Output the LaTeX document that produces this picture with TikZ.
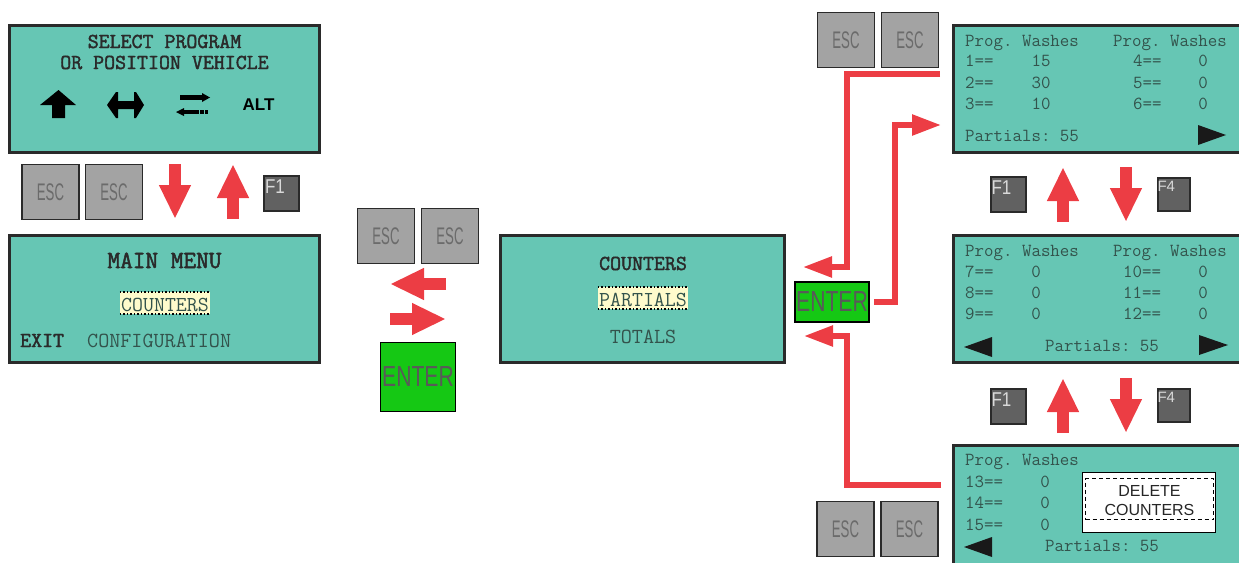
\documentclass[tikz,border=0pt]{standalone}
\usepackage{fontspec}
\usetikzlibrary{arrows.meta}
\setmainfont{Liberation Sans}
\newfontfamily\esckey[FakeStretch=0.55]{Liberation Sans}
\newfontfamily\enterkey[FakeStretch=0.73]{Liberation Sans}
\newfontfamily\fnkey[FakeStretch=0.85]{Liberation Sans}
\newfontfamily\boldmono[FakeBold=2]{Latin Modern Mono}
\definecolor{lcdbg}{HTML}{66C6B4}
\definecolor{lcdline}{HTML}{2A2A2A}
\definecolor{lcdtext}{HTML}{33534C}
\definecolor{hilite}{HTML}{FFFBCC}
\definecolor{redarrow}{HTML}{EC3D44}
\definecolor{escgray}{HTML}{A3A3A3}
\definecolor{fngray}{HTML}{616161}
\definecolor{entergreen}{HTML}{15C814}

\begin{document}
\frenchspacing
\begin{tikzpicture}[x=1pt,y=-1pt,
 lcd/.style={draw=lcdline,fill=lcdbg,line width=3pt,inner sep=0pt,minimum height=126.5pt},
 txt/.style={anchor=base west,inner sep=0pt,text=lcdtext,font=\ttfamily\fontsize{18.4}{20}\selectfont},
 num/.style={txt,anchor=base},
 big/.style={anchor=base,inner sep=0pt,text=lcdline,font=\boldmono\fontsize{21.3}{24}\selectfont},
 wide/.style={txt,font=\ttfamily\fontsize{21.5}{24}\selectfont},
 sel/.style={fill=hilite,anchor=center,inner sep=0pt,minimum width=90pt,minimum height=22pt,text height=17pt,text depth=0pt,text=lcdtext,font=\ttfamily\fontsize{21.3}{24}\selectfont},
 dots/.style={line width=1.5pt,dotted,line cap=butt},
 esc/.style={draw=lcdline,fill=escgray,line width=1.5pt,inner sep=0pt,minimum width=57pt,minimum height=55pt,text=black!58,font=\esckey\fontsize{24}{24}\selectfont},
 fn/.style={draw=lcdline,fill=fngray,line width=2pt,inner sep=0pt,minimum size=35pt,text=black!15,font=\fnkey\fontsize{20}{20}\selectfont,text depth=13pt,text width=33pt,align=left},
 fnb/.style={fn,minimum width=32pt,minimum height=33pt,text width=32pt,font=\fontsize{15}{15}\selectfont,text depth=16pt},
 enter/.style={draw=black,fill=entergreen,line width=1.6pt,inner sep=0pt,text=black!65,font=\enterkey\fontsize{29}{29}\selectfont},
 blockarr/.style={draw=redarrow,line width=12pt,-{Triangle[length=34pt,width=29.5pt]}},
 elbow/.style={draw=redarrow,line width=5.5pt,-{Triangle[length=29pt,width=20pt]}}]
\clip (0,0) rectangle (1239,562);
% screens
\node[lcd,minimum width=309.5pt] (select) at (164.5,89) {};
\node[lcd,minimum width=309.5pt] (mainmenu) at (164.5,299) {};
\node[lcd,minimum width=283.5pt] (counters) at (642.5,299) {};
\node[lcd,minimum width=340pt] (page1) at (1123,89) {};
\node[lcd,minimum width=340pt] (page2) at (1123,299) {};
\node[lcd,minimum width=340pt] (page3) at (1123,509) {};
% select program
\node[big] (title1) at (164.5,48) {SELECT PROGRAM};
\node[big] (title2) at (164.5,69) {OR POSITION VEHICLE};
\fill[black] (40,105) -- (58.5,90) -- (76,105) -- (65,105) -- (65,118) -- (52,118) -- (52,105) -- cycle;
\fill[black] (107,105) -- (116,92) -- (118,92) -- (118,101) -- (134,101) -- (134,92) -- (136,92) -- (144,105) -- (136,118) -- (134,118) -- (134,109) -- (118,109) -- (118,118) -- (116,118) -- cycle;
\fill[black] (180,95) rectangle (202,100);
\fill[black] (202,93) -- (210,97.5) -- (202,102) -- cycle;
\fill[black] (184,110) rectangle (199,114);
\fill[black] (200,110) rectangle (204,114);
\fill[black] (205,110) rectangle (208,114);
\fill[black] (184,108) -- (176,112) -- (184,116) -- cycle;
\node[anchor=base,inner sep=0pt,font=\bfseries\fontsize{17}{17}\selectfont,text=black] (alt) at (258.5,110) {ALT};
% main menu
\node[big,font=\boldmono\fontsize{24.6}{26}\selectfont] (mainttl) at (164.5,268) {MAIN MENU};
\node[sel] (mainsel) at (165,303) {COUNTERS};
\draw[dots] (mainsel.north west) -- (mainsel.north east);
\draw[dots] (mainsel.south west) -- (mainsel.south east);
\node[big,anchor=base west] (exit) at (20,347) {EXIT};
\node[wide] (config) at (87,347) {CONFIGURATION};
% counters
\node[big] (cntttl) at (643,270) {COUNTERS};
\node[sel] (cntsel) at (643,298) {PARTIALS};
\draw[dots] (cntsel.north west) -- (cntsel.north east);
\draw[dots] (cntsel.south west) -- (cntsel.south east);
\node[wide,anchor=base] (totals) at (643,343) {TOTALS};
% page 1
\node[txt] (ah1) at (965,46) {Prog. Washes};
\node[txt] (bh1) at (1113,46) {Prog. Washes};
\node[txt] (r1) at (965,66) {1==};
\node[txt] (r2) at (965,88) {2==};
\node[txt] (r3) at (965,109) {3==};
\node[num] (v1) at (1041,66) {15};
\node[num] (v2) at (1041,88) {30};
\node[num] (v3) at (1041,109) {10};
\node[txt] (r4) at (1133,66) {4==};
\node[txt] (r5) at (1133,88) {5==};
\node[txt] (r6) at (1133,109) {6==};
\node[num] (v4) at (1203,66) {0};
\node[num] (v5) at (1203,88) {0};
\node[num] (v6) at (1203,109) {0};
\node[txt] (sum1) at (965,141) {Partials: 55};
\fill[black!90] (1198,125) -- (1226,135) -- (1198,145) -- cycle;
% page 2
\node[txt] (ah2) at (965,256) {Prog. Washes};
\node[txt] (bh2) at (1113,256) {Prog. Washes};
\node[txt] (r7) at (965,277) {7==};
\node[txt] (r8) at (965,298) {8==};
\node[txt] (r9) at (965,319) {9==};
\node[num] (v7) at (1036,277) {0};
\node[num] (v8) at (1036,298) {0};
\node[num] (v9) at (1036,319) {0};
\node[txt] (r10) at (1123,277) {10==};
\node[txt] (r11) at (1123,298) {11==};
\node[txt] (r12) at (1123,319) {12==};
\node[num] (v10) at (1203,277) {0};
\node[num] (v11) at (1203,298) {0};
\node[num] (v12) at (1203,319) {0};
\node[txt] (sum2) at (1045,351) {Partials: 55};
\fill[black!90] (992,337) -- (964,347) -- (992,357) -- cycle;
\fill[black!90] (1199,335) -- (1228,345) -- (1199,355) -- cycle;
% page 3
\node[txt] (ah3) at (965,465) {Prog. Washes};
\node[txt] (r13) at (965,487) {13==};
\node[txt] (r14) at (965,508) {14==};
\node[txt] (r15) at (965,530) {15==};
\node[num] (v13) at (1045,487) {0};
\node[num] (v14) at (1045,508) {0};
\node[num] (v15) at (1045,530) {0};
\node[txt] (sum3) at (1045,551) {Partials: 55};
\fill[black!90] (992,537) -- (964,547) -- (992,557) -- cycle;
\node[draw=black,fill=white,line width=1.5pt,inner sep=0pt,minimum width=133pt,minimum height=60pt] (delbox) at (1149,502.5) {};
\node[draw=black,dash pattern=on 4pt off 3pt,line width=1.5pt,inner sep=0pt,minimum width=128pt,minimum height=41pt] (delframe) at (1149.5,499) {};
\node[align=center,inner sep=0pt,font=\fontsize{16}{19}\selectfont,text=black!85] (del) at (1149.5,501) {DELETE\\COUNTERS};
% keys
\node[esc] (esc1) at (50.5,192) {ESC};
\node[esc] (esc2) at (114,192) {ESC};
\node[esc] (esc3) at (386,236) {ESC};
\node[esc] (esc4) at (450,236) {ESC};
\node[esc] (esc5) at (846,40) {ESC};
\node[esc] (esc6) at (910,40) {ESC};
\node[esc] (esc7) at (845.5,529) {ESC};
\node[esc] (esc8) at (909.5,529) {ESC};
\node[fn] (f1a) at (281.5,193.5) {F1};
\node[fn] (f1b) at (1008,194) {F1};
\node[fn] (f1c) at (1008,406) {F1};
\node[fnb] (f4a) at (1173.5,194) {F4};
\node[fnb] (f4b) at (1173.5,405.5) {F4};
\node[enter,minimum width=75pt,minimum height=69pt] (enterl) at (418,377) {ENTER};
\node[enter,minimum width=74pt,minimum height=40pt] (enterr) at (832,302) {ENTER};
% arrows
\coordinate (a1) at (175,164); \coordinate (a2) at (175,219);
\coordinate (a3) at (233,219); \coordinate (a4) at (233,164);
\coordinate (a5) at (446,284); \coordinate (a6) at (390,284);
\coordinate (a7) at (390,319); \coordinate (a8) at (446,319);
\coordinate (a9) at (1063,222); \coordinate (a10) at (1063,167);
\coordinate (a11) at (1126,167); \coordinate (a12) at (1126,222);
\coordinate (a13) at (1063,433); \coordinate (a14) at (1063,378);
\coordinate (a15) at (1126,378); \coordinate (a16) at (1126,433);
\draw[blockarr] (a1)--(a2); \draw[blockarr] (a3)--(a4);
\draw[blockarr] (a5)--(a6); \draw[blockarr] (a7)--(a8);
\draw[blockarr] (a9)--(a10); \draw[blockarr] (a11)--(a12);
\draw[blockarr] (a13)--(a14); \draw[blockarr] (a15)--(a16);
\coordinate (e1) at (940,74); \coordinate (e2) at (847,267); \coordinate (e3) at (803,267);
\coordinate (e4) at (874,302); \coordinate (e5) at (895,125); \coordinate (e6) at (941,125);
\coordinate (e7) at (941,485); \coordinate (e8) at (847,336); \coordinate (e9) at (804,336);
\draw[elbow] (e1)-|(e2)--(e3);
\draw[elbow] (e4)-|(e5)--(e6);
\draw[elbow] (e7)-|(e8)--(e9);
\end{tikzpicture}
\end{document}
